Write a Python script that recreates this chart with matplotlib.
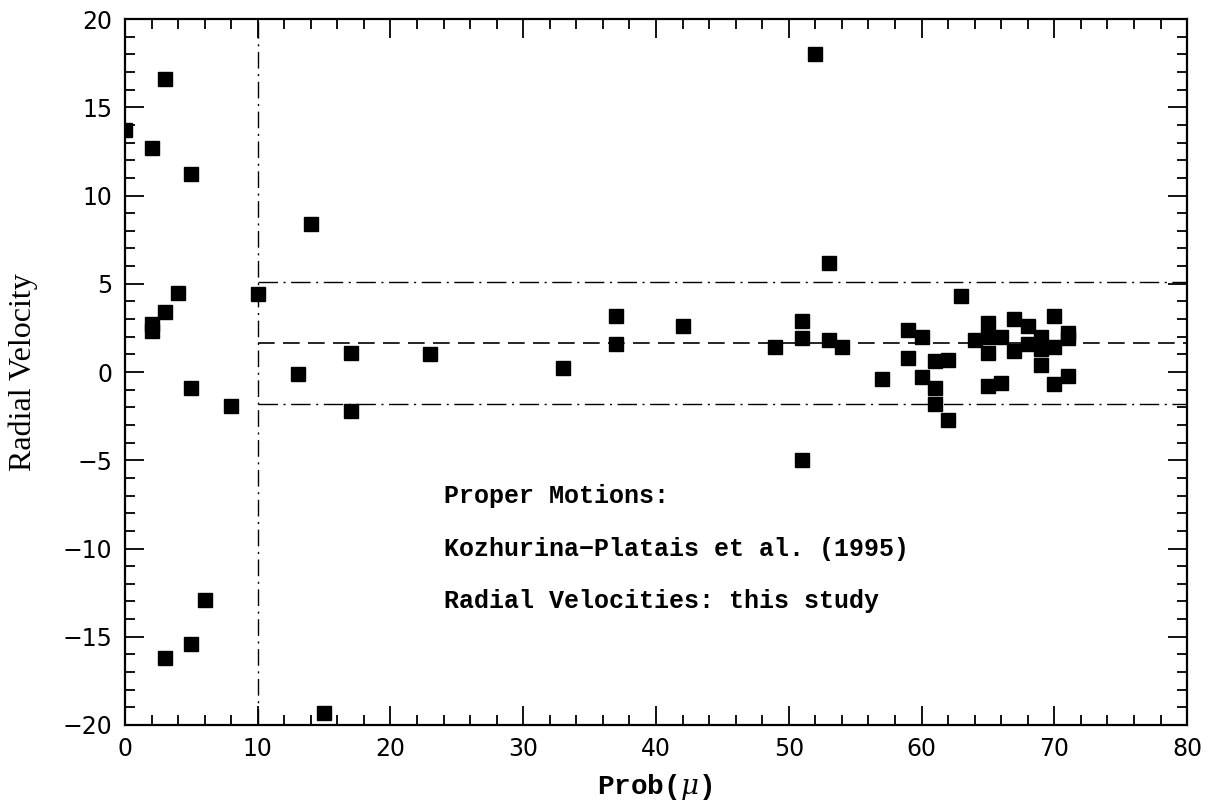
import numpy as np
import matplotlib
matplotlib.use('Agg')
import matplotlib.pyplot as plt
from matplotlib.ticker import MultipleLocator

# Prob(mu) and radial velocity
prob = [0, 2, 3, 5, 4, 3, 2, 2, 5, 8, 10, 6, 5, 3, 15, 14, 13, 17, 17,
        23, 33, 37, 37, 42, 49, 51, 51, 51, 52, 53, 53, 54, 57,
        59, 59, 60, 60, 61, 61, 61, 62, 62, 63, 64,
        65, 65, 65, 65, 66, 66, 67, 67, 68, 68,
        69, 69, 69, 70, 70, 70, 71, 71, 71]
rv = [13.7, 12.7, 16.6, 11.2, 4.5, 3.4, 2.7, 2.3, -0.9, -1.9, 4.4, -12.9, -15.4, -16.2, -19.3, 8.4, -0.1, 1.1, -2.2,
      1.0, 0.2, 3.2, 1.6, 2.6, 1.4, 2.9, 1.9, -5.0, 18.0, 6.2, 1.8, 1.4, -0.4,
      2.4, 0.8, 2.0, -0.3, 0.6, -0.9, -1.8, 0.7, -2.7, 4.3, 1.8,
      2.8, 2.0, 1.1, -0.8, 2.0, -0.6, 3.0, 1.2, 2.6, 1.6,
      2.0, 1.3, 0.4, 3.2, 1.4, -0.7, 2.2, 1.9, -0.2]

mean_rv = 1.65
upper_rv = 5.1
lower_rv = -1.8
prob_cut = 10

notes = ['Proper Motions:', 'Kozhurina\u2212Platais et al. (1995)', 'Radial Velocities: this study']

plt.rcParams['mathtext.fontset'] = 'dejavuserif'
plt.rcParams['axes.unicode_minus'] = True

fig = plt.figure(figsize=(12.19, 8.06), dpi=100)
ax = fig.add_axes([0.1025, 0.1005, 0.8713, 0.8759])

ax.plot(prob, rv, 's', color='black', ms=10.5, mec='black')

ax.axvline(prob_cut, color='black', lw=1.0, dashes=(12, 4, 1.5, 4))
ax.plot([prob_cut, 80], [mean_rv, mean_rv], color='black', lw=1.2, dashes=(10, 5))
ax.plot([prob_cut, 80], [upper_rv, upper_rv], color='black', lw=1.0, dashes=(14, 4, 1.5, 4))
ax.plot([prob_cut, 80], [lower_rv, lower_rv], color='black', lw=1.0, dashes=(14, 4, 1.5, 4))

for i, t in enumerate(notes):
    ax.text(24, -7 - 3 * i, t, fontsize=18, family='Liberation Mono',
            weight='bold', va='center')

ax.set_xlim(0, 80)
ax.set_ylim(-20, 20)
ax.xaxis.set_major_locator(MultipleLocator(10))
ax.xaxis.set_minor_locator(MultipleLocator(2))
ax.yaxis.set_major_locator(MultipleLocator(5))
ax.yaxis.set_minor_locator(MultipleLocator(1))
ax.tick_params(which='both', direction='in', top=True, right=True, width=1.3,
               labelsize=17)
ax.tick_params(which='major', length=14, pad=9)
ax.tick_params(which='minor', length=7)
for s in ax.spines.values():
    s.set_linewidth(1.6)

ax.set_xlabel(r'Prob($\mu$)', fontsize=20, family='Liberation Mono', weight='bold')
ax.set_ylabel('Radial Velocity', fontsize=23, family='Liberation Serif')
ax.xaxis.set_label_coords(0.499, -0.066)
ax.yaxis.set_label_coords(-0.082, 0.5)

fig.savefig('out.png', dpi=100)
